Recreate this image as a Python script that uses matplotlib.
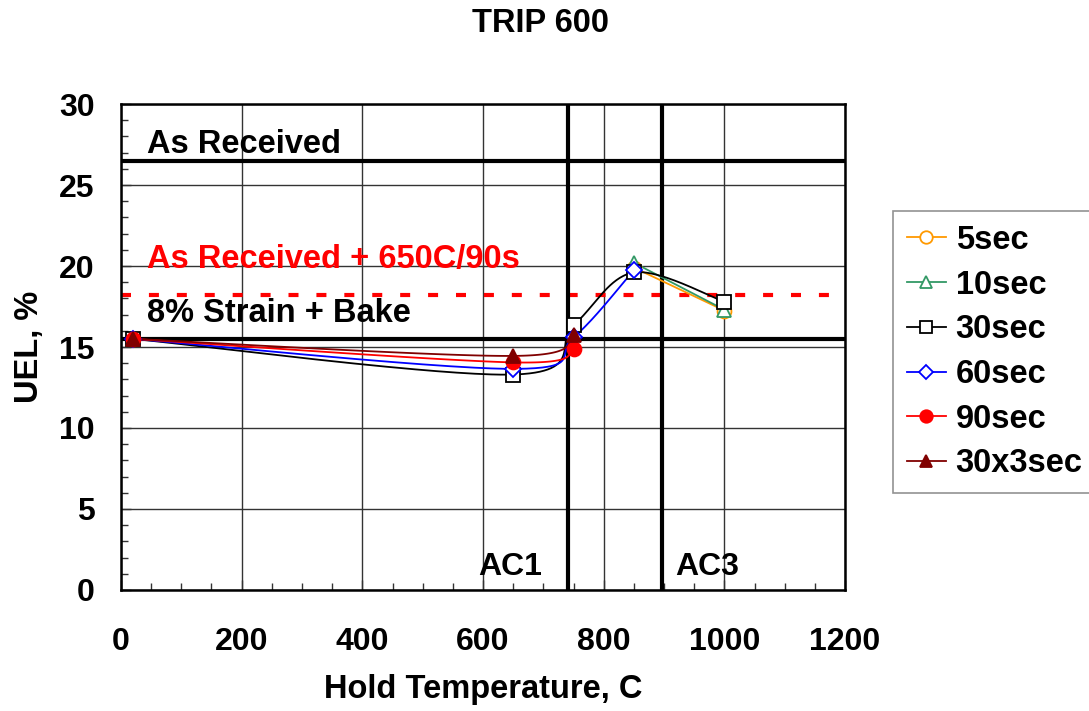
import numpy as np
import matplotlib.pyplot as plt
from matplotlib.ticker import MultipleLocator

plt.rcParams["font.family"] = ["Liberation Sans", "DejaVu Sans"]
plt.rcParams["font.weight"] = "bold"

# --------------------------------------------------
# Data (UEL vs hold temperature, by hold time)
# --------------------------------------------------
x_5s = [850, 1000]
y_5s = [19.9, 17.25]

x_10s = [850, 1000]
y_10s = [20.2, 17.3]

x_30s = [20, 650, 750, 850, 1000]
y_30s = [15.5, 13.3, 16.35, 19.6, 17.8]

x_60s = [20, 650, 750, 850]
y_60s = [15.5, 13.65, 15.6, 19.75]

x_90s = [20, 650, 750]
y_90s = [15.5, 14.05, 14.9]

x_30x3 = [20, 650, 750]
y_30x3 = [15.5, 14.45, 15.75]

as_received = 26.5
as_received_650 = 18.2
strain_bake = 15.5
ac1 = 740
ac3 = 897


def smooth(xs, ys, n=60):
    """Bezier smoothing between points, same idea as a spreadsheet 'smoothed line'."""
    p = np.column_stack([xs, ys]).astype(float)
    if len(p) < 3:
        return p[:, 0], p[:, 1]
    # scale to screen-ish units so the tangents behave
    sc = np.array([724 / 1200, 16.2])
    q = p * sc
    ext = np.vstack([q[0], q, q[-1]])
    t = np.linspace(0, 1, n)[:, None]
    out = []
    for i in range(len(q) - 1):
        a, b = ext[i + 1], ext[i + 2]
        c1 = a + (ext[i + 2] - ext[i]) / 6
        c2 = b - (ext[i + 3] - ext[i + 1]) / 6
        seg = ((1 - t) ** 3) * a + 3 * ((1 - t) ** 2) * t * c1 + 3 * (1 - t) * t ** 2 * c2 + t ** 3 * b
        out.append(seg if i == 0 else seg[1:])
    out = np.vstack(out) / sc
    return out[:, 0], out[:, 1]


# --------------------------------------------------
# Figure
# --------------------------------------------------
FS = 23.5

fig = plt.figure(figsize=(10.89, 7.11), dpi=100)
ax = fig.add_axes([0.1111, 0.1702, 0.6649, 0.6835])

ax.set_xlim(0, 1200)
ax.set_ylim(0, 30)
ax.xaxis.set_major_locator(MultipleLocator(200))
ax.xaxis.set_minor_locator(MultipleLocator(50))
ax.yaxis.set_major_locator(MultipleLocator(5))
ax.yaxis.set_minor_locator(MultipleLocator(1))
ax.tick_params(which="both", direction="in", width=1, color="#333333")
ax.tick_params(which="major", length=7, labelsize=FS - 0.5)
ax.tick_params(which="minor", length=5)
ax.tick_params(axis="x", which="major", pad=27)
ax.tick_params(axis="y", which="major", pad=19)
ax.grid(which="major", color="#333333", linewidth=1)
for s in ax.spines.values():
    s.set_linewidth(1.8)

# reference levels
ax.axhline(as_received, color="black", linewidth=3, zorder=2)
ax.axhline(strain_bake, color="black", linewidth=3, zorder=2)
ax.axhline(as_received_650, color="red", linewidth=3, dashes=(2.4, 4.3), zorder=2)
ax.axvline(ac1, color="black", linewidth=3, zorder=2)
ax.axvline(ac3, color="black", linewidth=3, zorder=2)

ax.text(43, 27.0, "As Received", fontsize=FS, fontweight="bold")
ax.text(43, 19.9, "As Received + 650C/90s", fontsize=FS, fontweight="bold", color="red")
ax.text(43, 16.55, "8% Strain + Bake", fontsize=FS, fontweight="bold")
ax.text(592, 0.9, "AC1", fontsize=FS - 0.5, fontweight="bold")
ax.text(918, 0.9, "AC3", fontsize=FS - 0.5, fontweight="bold")

series = [
    (x_5s, y_5s, "5sec", "#FF9900", "o", "white"),
    (x_10s, y_10s, "10sec", "#339966", "^", "white"),
    (x_30s, y_30s, "30sec", "black", "s", "white"),
    (x_60s, y_60s, "60sec", "blue", "D", "white"),
    (x_90s, y_90s, "90sec", "red", "o", "red"),
    (x_30x3, y_30x3, "30x3sec", "#800000", "^", "#800000"),
]

handles = []
for xs, ys, lab, col, mk, fc in series:
    sx, sy = smooth(xs, ys)
    ax.plot(sx, sy, color=col, linewidth=1.3, zorder=3)
    ms = 8 if mk == "D" else 10
    ax.plot(xs, ys, linestyle="none", marker=mk, markersize=ms,
            markerfacecolor=fc, markeredgecolor=col, markeredgewidth=1.3, zorder=4)
    h, = ax.plot([], [], color=col, linewidth=1.3, marker=mk, markersize=ms - 1,
                 markerfacecolor=fc, markeredgecolor=col, markeredgewidth=1.3, label=lab)
    handles.append(h)

ax.set_xlabel("Hold Temperature, C", fontsize=FS, fontweight="bold", labelpad=12)
ax.set_ylabel("UEL, %", fontsize=FS, fontweight="bold", labelpad=10)
fig.text(0.4966, 0.967, "TRIP 600", fontsize=FS, fontweight="bold", ha="center", va="center")

leg = fig.legend(handles=handles, loc="upper left", bbox_to_anchor=(0.82, 0.703),
                 borderaxespad=0, fontsize=FS, frameon=True, fancybox=False,
                 edgecolor="#777777", handlelength=1.2, handletextpad=0.3,
                 labelspacing=0.42, borderpad=0.42)
leg.get_frame().set_linewidth(1.2)

plt.savefig("out.png", dpi=100)
